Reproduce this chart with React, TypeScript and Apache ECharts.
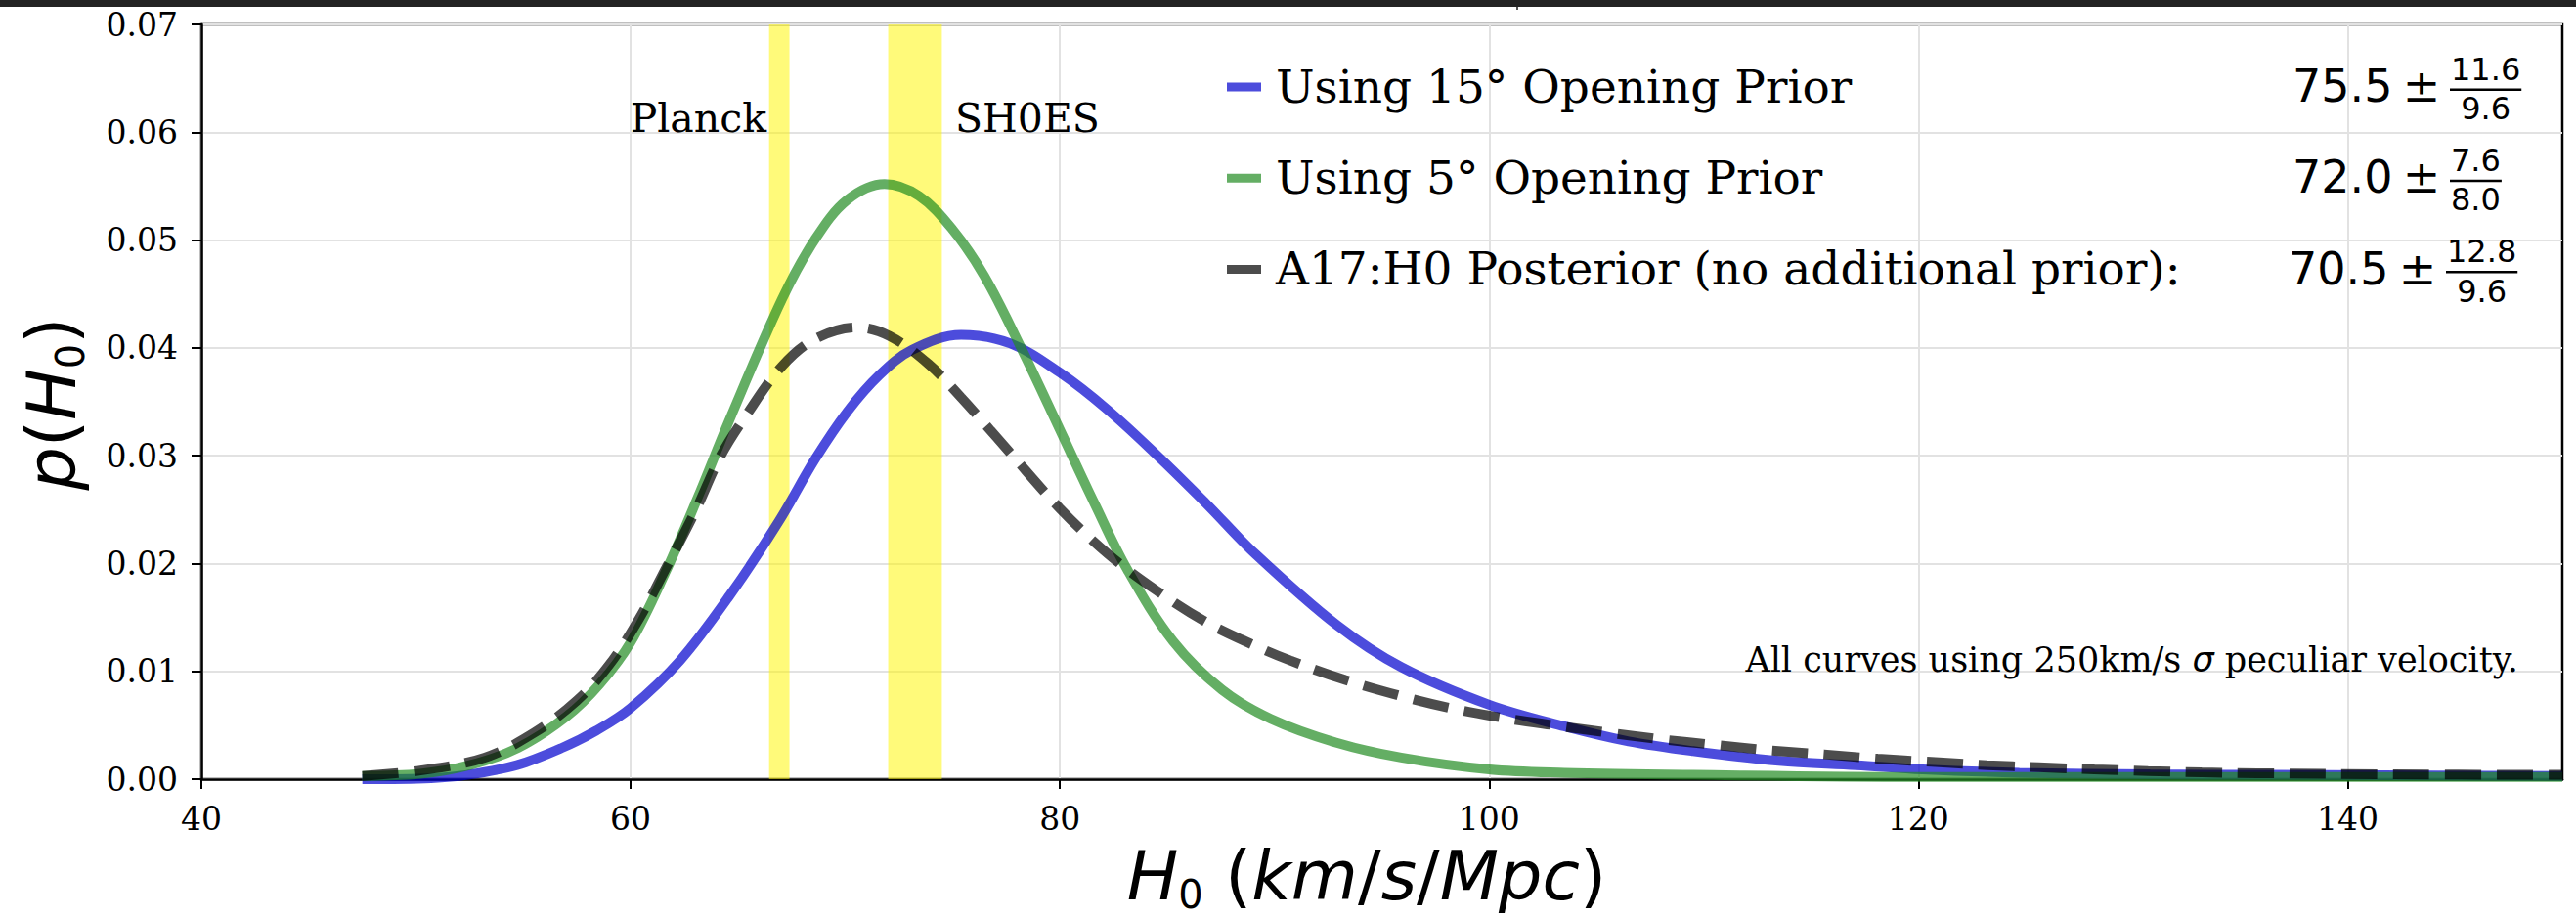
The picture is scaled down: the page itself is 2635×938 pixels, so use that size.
import React, { useEffect, useRef } from "react";
import * as echarts from "echarts";

// ---------- data ----------
const xTicks = [40, 60, 80, 100, 120, 140];

const h0Prior15 = [47.5, 50.7, 52.4, 54.7, 56.8, 58.4, 60.0, 62.3, 64.6, 66.9, 68.6, 70.1, 71.6, 73.1, 75.4, 77.7, 80.0, 82.2, 84.5, 86.8, 89.1, 92.9, 95.9, 100.0, 103.5, 106.5, 109.5, 113.5, 117.1, 120.2, 124.7, 130.8, 136.2, 150];
const pPrior15 = [0.0, 0.0001, 0.0004, 0.0013, 0.0029, 0.0045, 0.0066, 0.011, 0.017, 0.0239, 0.0297, 0.0341, 0.0375, 0.0398, 0.0412, 0.0404, 0.0377, 0.0343, 0.0301, 0.0256, 0.0209, 0.0143, 0.0104, 0.0069, 0.0049, 0.0035, 0.0026, 0.0017, 0.0013, 0.0009, 0.0006, 0.00045, 0.0004, 0.0003];

const h0Prior5 = [47.5, 50.2, 52.5, 54.75, 57.0, 58.55, 60.0, 61.6, 63.1, 64.6, 67.05, 68.57, 70.08, 71.83, 73.43, 74.95, 76.47, 78.29, 80.0, 81.63, 83.15, 85.27, 87.55, 89.82, 92.85, 95.9, 100.0, 103.5, 109.5, 120, 150];
const pPrior5 = [0.0003, 0.0005, 0.0013, 0.0029, 0.0058, 0.0088, 0.0127, 0.0191, 0.026, 0.0333, 0.0445, 0.05, 0.0537, 0.0552, 0.0541, 0.0511, 0.0467, 0.0396, 0.0324, 0.0255, 0.0194, 0.0128, 0.0083, 0.0056, 0.0034, 0.002, 0.0009, 0.0006, 0.0004, 0.0002, 0.0002];

const h0Posterior = [47.5, 50.2, 53.2, 55.5, 57.5, 59.0, 60.4, 61.6, 63.0, 64.2, 65.4, 67.05, 68.57, 70.54, 72.06, 73.88, 75.4, 77.67, 80.0, 82.23, 84.5, 86.78, 89.06, 90.74, 93.3, 95.9, 98.17, 100.6, 103.0, 105.6, 108.0, 110.4, 112.9, 115.6, 118.1, 120.6, 123.2, 125.6, 128.2, 130.7, 133.2, 135.8, 142.0, 150];
const pPosterior = [0.0003, 0.0008, 0.002, 0.0043, 0.0073, 0.0106, 0.0149, 0.0194, 0.0248, 0.03, 0.0338, 0.0383, 0.0408, 0.0419, 0.0411, 0.0385, 0.0354, 0.0303, 0.0251, 0.0209, 0.0175, 0.0146, 0.0124, 0.011, 0.0092, 0.0077, 0.0066, 0.0057, 0.005, 0.0043, 0.0037, 0.0032, 0.0027, 0.0023, 0.0019, 0.0016, 0.0013, 0.0011, 0.0009, 0.00075, 0.00063, 0.00055, 0.00045, 0.0004];

const planckBand = [66.45, 67.4];
const shoesBand = [72.0, 74.5];

const seriesNames = ["Using 15° Opening Prior", "Using 5° Opening Prior", "A17:H0 Posterior (no additional prior):"];
const centralValues = ["75.5", "72.0", "70.5"];
const upperErrors = ["11.6", "7.6", "12.8"];
const lowerErrors = ["9.6", "8.0", "9.6"];

// ---------- styles ----------
const serif = "'DejaVu Serif', serif";
const sans = "'DejaVu Sans', sans-serif";
const colors = ["rgba(0,0,205,0.7)", "rgba(34,139,34,0.7)", "rgba(0,0,0,0.7)"];

const zip = (xs: number[], ys: number[]) => xs.map((x, i) => [x, ys[i]]);

function numWidth(s: string, fs: number) {
  let w = 0;
  for (const c of s) w += c === "." ? 0.318 : 0.636;
  return w * fs;
}

function buildGraphic() {
  const g: any[] = [];
  // dark strip at the very top
  g.push({ type: "rect", shape: { x: 0, y: 0, width: 2635, height: 7 }, style: { fill: "#232323" }, z: 100 });
  g.push({ type: "rect", shape: { x: 1551, y: 7, width: 2, height: 3 }, style: { fill: "#555" }, z: 100 });

  // band labels
  g.push({ type: "text", x: 784, y: 121, z: 10, style: { text: "Planck", fontFamily: serif, fontSize: 41, fill: "#000", align: "right", verticalAlign: "middle" } });
  g.push({ type: "text", x: 977, y: 121, z: 10, style: { text: "SH0ES", fontFamily: serif, fontSize: 41, fill: "#000", align: "left", verticalAlign: "middle" } });

  // note
  g.push({
    type: "text", x: 2576, y: 675, z: 10,
    style: {
      text: "{n|All curves using 250km/s\u00a0}{g|σ}{n|\u00a0peculiar velocity.}",
      align: "right", verticalAlign: "middle",
      rich: {
        n: { fontFamily: serif, fontSize: 35, fill: "#000" },
        g: { fontFamily: sans, fontStyle: "italic", fontSize: 35, fill: "#000" },
      },
    },
  });

  // legend
  const rowStep = 93.3;
  const rowX0 = [2347, 2347, 2343];
  seriesNames.forEach((name, i) => {
    const base = 104 + i * rowStep;
    g.push({ type: "rect", z: 10, shape: { x: 1255, y: base - 19.5, width: 35, height: 9 }, style: { fill: colors[i] } });
    g.push({ type: "text", x: 1305, y: base - 16, z: 10, style: { text: name, fontFamily: serif, fontSize: 47, fill: "#000", align: "left", verticalAlign: "middle" } });
    const x0 = rowX0[i];
    g.push({ type: "text", x: x0 - 2, y: base - 16, z: 10, style: { text: centralValues[i], fontFamily: sans, fontSize: 46, fill: "#000", align: "left", verticalAlign: "middle" } });
    g.push({ type: "text", x: x0 + 130, y: base - 16, z: 10, style: { text: "±", fontFamily: sans, fontSize: 46, fill: "#000", align: "center", verticalAlign: "middle" } });
    const fw = Math.max(numWidth(upperErrors[i], 32), numWidth(lowerErrors[i], 32)) + 2;
    const fx = x0 + 159;
    const lineY = base - 12.3;
    g.push({ type: "rect", z: 10, shape: { x: fx, y: lineY - 1.3, width: fw, height: 2.6 }, style: { fill: "#000" } });
    g.push({ type: "text", x: fx + fw / 2, y: base - 22.3 - 11, z: 10, style: { text: upperErrors[i], fontFamily: sans, fontSize: 32, fill: "#000", align: "center", verticalAlign: "middle" } });
    g.push({ type: "text", x: fx + fw / 2, y: base + 18 - 11, z: 10, style: { text: lowerErrors[i], fontFamily: sans, fontSize: 32, fill: "#000", align: "center", verticalAlign: "middle" } });
  });

  const labelRich = {
    i: { fontFamily: sans, fontStyle: "italic", fontSize: 70, fill: "#000" },
    n: { fontFamily: sans, fontSize: 70, fill: "#000" },
    s: { fontFamily: sans, fontSize: 40, lineHeight: 20, fill: "#000", padding: [38, 0, 0, 0] },
  };
  // x label
  g.push({
    type: "text", x: 1398, y: 896, z: 10,
    style: { text: "{i|H}{s|0}{n|\u00a0(}{i|km}{n|/}{i|s}{n|/}{i|Mpc}{n|)}", align: "center", verticalAlign: "middle", rich: labelRich },
  });
  // y label
  g.push({
    type: "text", x: 53, y: 413, z: 10, rotation: Math.PI / 2,
    style: { text: "{i|p}{n|(}{i|H}{s|0}{n|)}", align: "center", verticalAlign: "middle", rich: labelRich },
  });
  return g;
}

function buildOption() {
  const axisText = { color: "#000", fontFamily: serif, fontSize: 33 };
  const lineCommon = { type: "line", showSymbol: false, symbol: "none", smooth: 0.35, z: 3 };
  return {
    animation: false,
    backgroundColor: "#ffffff",
    grid: { left: 206, top: 25, width: 2415, height: 772, show: true, borderColor: "#000", borderWidth: 2.5, backgroundColor: "transparent", containLabel: false },
    xAxis: {
      type: "value", min: 40, max: 150, interval: 20,
      axisLine: { show: true, onZero: false, lineStyle: { color: "#000", width: 2.5 } },
      axisTick: { show: true, inside: false, length: 10, customValues: xTicks, lineStyle: { color: "#000", width: 2 } },
      axisLabel: { ...axisText, margin: 24, customValues: xTicks, formatter: (v: number) => (v === 150 ? "" : String(v)) },
      splitLine: { show: true, lineStyle: { color: "#e2e2e2", width: 2 } },
    },
    yAxis: {
      type: "value", min: 0, max: 0.07, interval: 0.01,
      axisLine: { show: true, onZero: false, lineStyle: { color: "#000", width: 2.5 } },
      axisTick: { show: true, inside: false, length: 10, lineStyle: { color: "#000", width: 2 } },
      axisLabel: { ...axisText, margin: 24, formatter: (v: number) => v.toFixed(2) },
      splitLine: { show: true, lineStyle: { color: "#e2e2e2", width: 2 } },
    },
    series: [
      {
        ...lineCommon, name: seriesNames[0], data: zip(h0Prior15, pPrior15),
        lineStyle: { color: "#0000cd", width: 10, opacity: 0.7 },
        markArea: {
          silent: true, z: 1,
          itemStyle: { color: "rgba(255,246,0,0.52)", borderWidth: 0 },
          data: [
            [{ xAxis: planckBand[0] }, { xAxis: planckBand[1] }],
            [{ xAxis: shoesBand[0] }, { xAxis: shoesBand[1] }],
          ],
        },
      },
      { ...lineCommon, name: seriesNames[1], data: zip(h0Prior5, pPrior5), lineStyle: { color: "#228b22", width: 10, opacity: 0.7 } },
      { ...lineCommon, name: seriesNames[2], data: zip(h0Posterior, pPosterior), lineStyle: { color: "#000000", width: 10, opacity: 0.7, type: [37, 16] } },
    ],
    graphic: buildGraphic(),
  };
}

export default function App() {
  const ref = useRef<HTMLDivElement>(null);
  useEffect(() => {
    const chart = echarts.init(ref.current as HTMLDivElement, null, { renderer: "svg", width: 2635, height: 938 });
    chart.setOption(buildOption() as any);
    return () => chart.dispose();
  }, []);
  return <div ref={ref} style={{ position: "absolute", left: 0, top: 0, width: 2635, height: 938, background: "#fff" }} />;
}
